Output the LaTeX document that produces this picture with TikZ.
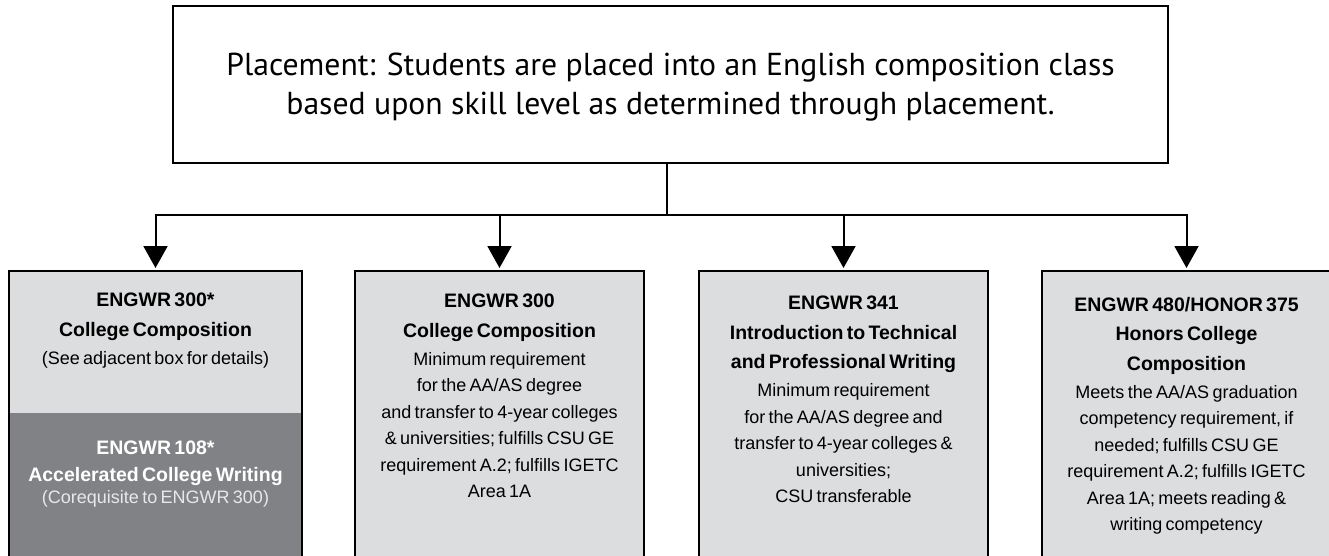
\documentclass[tikz,border=0pt]{standalone}
\usepackage{fontspec}
\setmainfont{Liberation Sans}
\newfontfamily\topfont{PT Sans}
\usetikzlibrary{arrows.meta}
\definecolor{lightfill}{HTML}{DCDDDF}
\definecolor{darkfill}{HTML}{808285}
\definecolor{paletext}{HTML}{E8E8EA}
\newcommand\cbold{\bfseries\fontsize{19.5}{29.5}\selectfont}
\newcommand\cnorm{\fontsize{18}{26.5}\selectfont}
\begin{document}
\begin{tikzpicture}[x=1pt,y=-1pt,
  every node/.style={inner sep=0pt, outer sep=0pt},
  topbox/.style={draw=black, line width=2pt, minimum width=995pt, minimum height=157pt,
    align=center, font=\topfont\fontsize{31.7}{39}\selectfont},
  coursebox/.style={draw=black, line width=2pt, fill=lightfill, minimum width=289pt,
    minimum height=330pt, anchor=north},
  halfbox/.style={fill=#1, minimum width=293pt, minimum height=142pt, anchor=north},
  coursetext/.style={anchor=north, align=center, text width=287pt},
  arr/.style={line width=2pt, -{Triangle[width=24pt,length=22pt]}, shorten >=3pt},
  link/.style={line width=2pt}]
\path[use as bounding box, clip] (0,0) rectangle (1329,555);

% top box
\node[topbox] (top) at (670.5,84.5) {};
\node[align=center, font=\topfont\fontsize{31.7}{39}\selectfont] (toptext) at (670.5,87)
  {Placement: Students are placed into an English composition class\\
   based upon skill level as determined through placement.};

% course boxes
\node[halfbox=lightfill] (b1) at (155.5,271) {};
\node[halfbox=darkfill, minimum height=250pt] (b1d) at (b1.south) {};
\draw[line width=2pt] (b1.north west) rectangle (b1d.south east);
\node[coursebox] (b2) at (499.5,271) {};
\node[coursebox] (b3) at (843.5,271) {};
\node[coursebox] (b4) at (1186.5,271) {};

% texts
\node[coursetext] (t1) at ([yshift=-22pt]b1.north)
  {{\cbold ENGWR 300*\\College Composition\par}\vspace{1.5pt}{\cnorm (See adjacent box for details)\par}};
\node[coursetext, text=white] (t1d) at ([yshift=-28pt]b1d.north)
  {{\bfseries\fontsize{19.5}{27}\selectfont ENGWR 108*\\Accelerated College Writing\par}\vspace{-4.5pt}{\cnorm\color{paletext}(Corequisite to ENGWR 300)\par}};
\node[coursetext] (t2) at ([yshift=-23pt]b2.north)
  {{\cbold ENGWR 300\\College Composition\par}\vspace{1.5pt}{\cnorm Minimum requirement\\for the AA/AS degree\\and transfer to 4-year colleges\\\& universities; fulfills CSU GE\\requirement A.2; fulfills IGETC\\Area 1A\par}};
\node[coursetext] (t3) at ([yshift=-25pt]b3.north)
  {{\cbold ENGWR 341\\Introduction to Technical\\and Professional Writing\par}\vspace{1.5pt}{\cnorm Minimum requirement\\for the AA/AS degree and\\transfer to 4-year colleges \&\\universities;\\CSU transferable\par}};
\node[coursetext] (t4) at ([yshift=-26pt]b4.north)
  {{\cbold ENGWR 480/HONOR 375\\Honors College\\Composition\par}\vspace{1.5pt}{\cnorm Meets the AA/AS graduation\\competency requirement, if\\needed; fulfills CSU GE\\requirement A.2; fulfills IGETC\\Area 1A; meets reading \&\\writing competency\par}};

% connectors
\coordinate (hub) at (667,215);
\draw[link] (top.south -| hub) -- (hub);
\draw[arr] (hub) -| (b1.north);
\draw[arr] (hub) -| (b4.north);
\draw[arr] (b2.north |- hub) -- (b2.north);
\draw[arr] (b3.north |- hub) -- (b3.north);
\end{tikzpicture}
\end{document}
